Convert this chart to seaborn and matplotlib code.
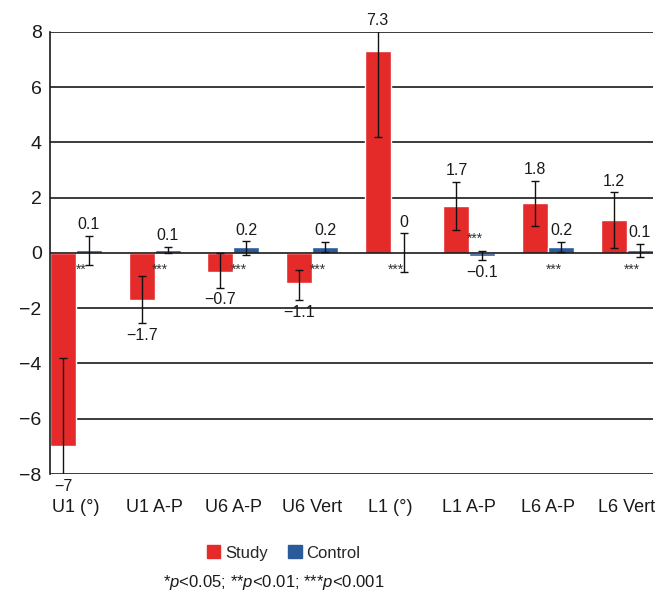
import pandas as pd
import seaborn as sns
import matplotlib.pyplot as plt

# Dados
medidas = ["U1 (°)", "U1 A-P", "U6 A-P", "U6 Vert", "L1 (°)", "L1 A-P", "L6 A-P", "L6 Vert"]
study = [-7, -1.7, -0.7, -1.1, 7.3, 1.7, 1.8, 1.2]
control = [0.1, 0.1, 0.2, 0.2, 0, -0.1, 0.2, 0.1]

# extremos das barras de erro
study_lo = [-10.2, -2.55, -1.25, -1.7, 4.2, 0.83, 0.97, 0.18]
study_hi = [-3.8, -0.85, 0.0, -0.62, 10.4, 2.57, 2.62, 2.2]
control_lo = [-0.43, 0.0, -0.08, 0.03, -0.68, -0.25, 0.03, -0.15]
control_hi = [0.62, 0.23, 0.43, 0.4, 0.72, 0.08, 0.4, 0.33]

stars = ["**", "***", "***", "***", "***", "***", "***", "***"]
grupos = ["Study", "Control"]
cores = ["#e52a2a", "#2b5a9b"]

df = pd.DataFrame({
    "Medida": medidas * 2,
    "Valor": study + control,
    "Grupo": ["Study"] * len(medidas) + ["Control"] * len(medidas),
})

sns.set_theme(style="white")
plt.rcParams["font.family"] = ["Liberation Sans", "DejaVu Sans"]
plt.rcParams["mathtext.fontset"] = "custom"
plt.rcParams["mathtext.it"] = "Liberation Sans:italic"
plt.rcParams["mathtext.rm"] = "Liberation Sans"

fig = plt.figure(figsize=(6.6, 6.01), dpi=100)
ax = fig.add_axes([0.0758, 0.2113, 0.9132, 0.7355])

sns.barplot(
    data=df, x="Medida", y="Valor", hue="Grupo", order=medidas, hue_order=grupos,
    palette=cores, width=0.66, errorbar=None, saturation=1, ax=ax, legend=False,
    zorder=2,
)

ax.set_xlim(-0.33, len(medidas) - 1 + 0.33)
ax.set_ylim(-8, 8)
ax.set_yticks(range(-8, 9, 2))
for y in range(-8, 9, 2):
    ax.axhline(y, color="#1a1a1a", lw=1.2, zorder=1 if y != 0 else 3)

for s in ["top", "right", "bottom"]:
    ax.spines[s].set_visible(False)
ax.spines["left"].set_color("#1a1a1a")
ax.spines["left"].set_linewidth(1.2)
ax.tick_params(axis="y", length=0, pad=6, labelsize=14, colors="#1a1a1a")
ax.tick_params(axis="x", length=0, pad=18, labelsize=13, colors="#1a1a1a")
ax.set_xlabel("")
ax.set_ylabel("")


def fmt(v):
    return f"{v:g}".replace("-", "\u2212")


series = [(study, study_lo, study_hi), (control, control_lo, control_hi)]
for cont, (vals, lo, hi) in zip(ax.containers, series):
    for bar, v, a, b in zip(cont, vals, lo, hi):
        xc = bar.get_x() + bar.get_width() / 2
        ax.errorbar(xc, v, yerr=[[v - a], [b - v]], fmt="none", ecolor="#111111",
                    elinewidth=1, capsize=3, capthick=1, zorder=4)
        if v >= 0:
            ax.text(xc, min(b, 8) + 0.4, fmt(v), ha="center", va="center",
                    fontsize=11.5, color="#1a1a1a", clip_on=False)
        else:
            ax.text(xc, max(a, -8) - 0.45, fmt(v), ha="center", va="center",
                    fontsize=11.5, color="#1a1a1a", clip_on=False)

for i, (st, c) in enumerate(zip(stars, control)):
    ys = 0.5 if c < 0 else -0.6
    ax.text(i + 0.07, ys, st, ha="center", va="center", fontsize=10, color="#333333")

handles = [plt.Rectangle((0, 0), 1, 1, color=c) for c in cores]
fig.legend(handles, grupos, loc="center", bbox_to_anchor=(0.43, 0.08), ncol=2,
           frameon=False, fontsize=12, handlelength=0.8, handleheight=0.8,
           handletextpad=0.3, columnspacing=1.2)
fig.text(0.415, 0.031, r"*$\it{p}$<0.05; **$\it{p}$<0.01; ***$\it{p}$<0.001",
         ha="center", va="center", fontsize=12, color="#1a1a1a")

fig.savefig("out.png", dpi=100)
